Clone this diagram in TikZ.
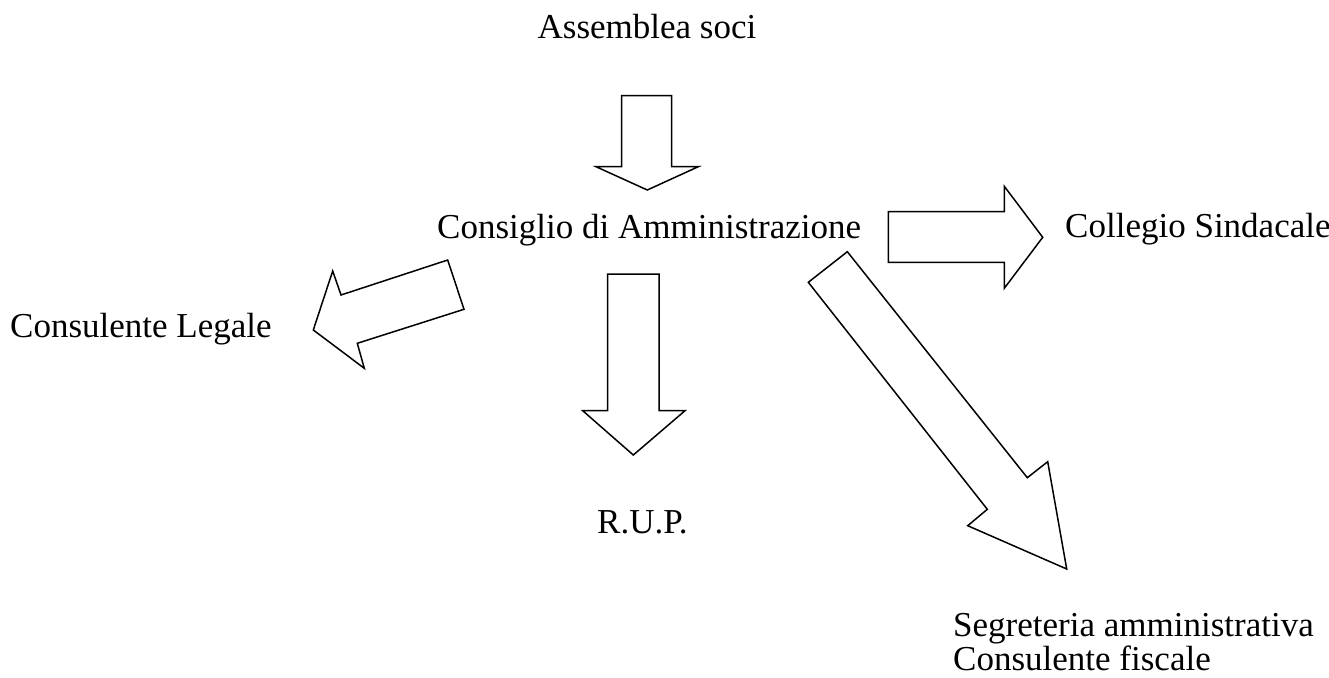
\documentclass[tikz,border=0pt]{standalone}
\usepackage{fontspec}
\setmainfont{Liberation Serif}
\begin{document}
\begin{tikzpicture}[x=1pt,y=-1pt,
  lbl/.style={anchor=base west, inner sep=0pt, font=\fontsize{35}{34}\selectfont},
  blockarrow/.style={draw=black, line width=1.5pt, line join=miter, fill=white}]
\useasboundingbox (0,0) rectangle (1329,677);
% labels
\node[lbl, anchor=base] (assemblea) at (647,39) {Assemblea soci};
\node[lbl] (consiglio) at (437,238) {Consiglio di Amministrazione};
\node[lbl] (collegio) at (1065,237) {Collegio Sindacale};
\node[lbl] (legale) at (10,337) {Consulente Legale};
\node[lbl] (rup) at (597,533) {R.U.P.};
\node[lbl] (segreteria) at (953,636) {Segreteria amministrativa};
\node[lbl] (fiscale) at (953,670) {Consulente fiscale};
% block arrows
\draw[blockarrow] (621.7,95.7) -- (671.7,95.7) -- (671.7,166.7) -- (698.3,166.7) -- (647.3,190) -- (596,166.7) -- (621.7,166.7) -- cycle;
\draw[blockarrow] (888.3,211.7) -- (1004.3,211.7) -- (1004.3,186.3) -- (1042.7,237.3) -- (1004.3,288.3) -- (1004.3,262.3) -- (888.3,262.3) -- cycle;
\draw[blockarrow] (447.7,260) -- (464,309.3) -- (357.3,343.3) -- (364.3,368.3) -- (313.3,330) -- (332.7,271) -- (341,295) -- cycle;
\draw[blockarrow] (607.7,274) -- (659,274) -- (659,410.7) -- (685,410.7) -- (633.3,455) -- (582.7,410.7) -- (607.7,410.7) -- cycle;
\draw[blockarrow] (808.3,282.3) -- (847.3,251.7) -- (1027.3,477.7) -- (1047.7,461.7) -- (1066.7,569) -- (967.7,525.7) -- (987.3,509.3) -- cycle;
\end{tikzpicture}
\end{document}
